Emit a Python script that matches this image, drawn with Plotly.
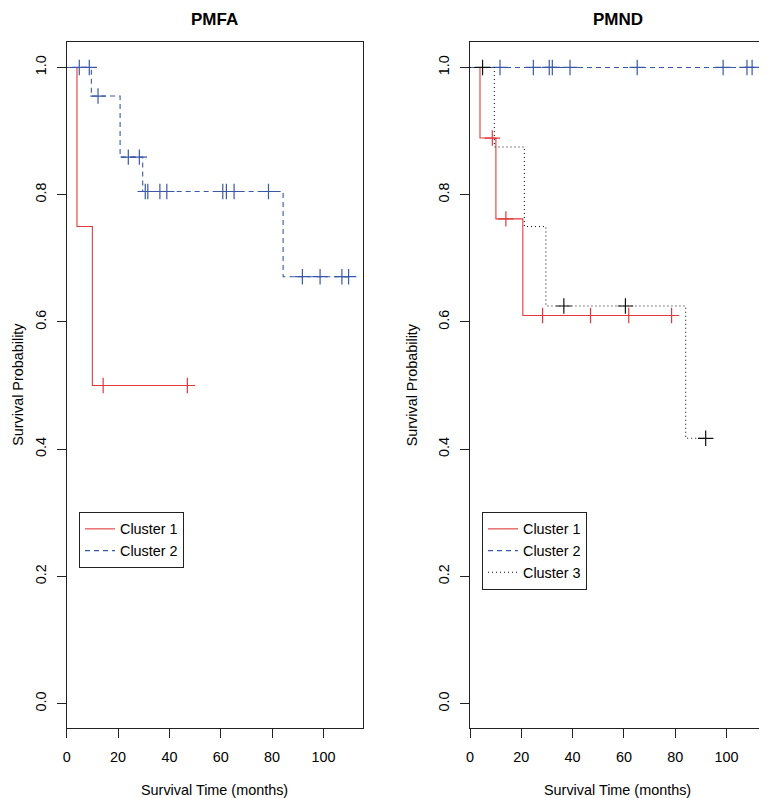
import plotly.graph_objects as go

# ---------------------------------------------------------------- data
# Kaplan-Meier steps: event times (months) and survival
# after each event; curves start at (0, 1).  Censored times are the "+" marks.

# PMFA
pmfa_c1_times = [0, 4.0, 10.0]
pmfa_c1_surv = [1.0, 0.75, 0.5]
pmfa_c1_end = 47.0
pmfa_c1_censor = [14.2, 47.0]

pmfa_c2_times = [0, 9.6, 20.8, 29.6, 84.3]
pmfa_c2_surv = [1.0, 0.955, 0.859, 0.805, 0.671]
pmfa_c2_end = 109.8
pmfa_c2_censor = [4.9, 8.8, 12.2, 24.0, 28.3, 30.6, 31.6, 36.3, 39.0,
                  60.8, 62.2, 65.2, 78.6, 91.8, 98.7, 107.2, 109.8]

# PMND
pmnd_c1_times = [0, 3.9, 10.1, 20.6]
pmnd_c1_surv = [1.0, 0.889, 0.762, 0.610]
pmnd_c1_end = 78.6
pmnd_c1_censor = [8.7, 14.0, 28.3, 47.0, 61.9, 78.6]

pmnd_c2_times = [0]
pmnd_c2_surv = [1.0]
pmnd_c2_end = 110.0
pmnd_c2_censor = [11.7, 24.7, 30.9, 32.1, 39.0, 65.2, 98.7, 108.0, 110.0]

pmnd_c3_times = [0, 9.5, 21.2, 29.6, 84.1]
pmnd_c3_surv = [1.0, 0.875, 0.75, 0.625, 0.417]
pmnd_c3_end = 91.9
pmnd_c3_censor = [4.9, 36.6, 60.6, 91.9]

x_ticks = [0, 20, 40, 60, 80, 100]
y_ticks = [0.0, 0.2, 0.4, 0.6, 0.8, 1.0]

# ---------------------------------------------------------------- style
FONT = "Liberation Sans, Arial, Helvetica, sans-serif"
RED = "#E2393B"
BLUE = "#3A58A8"
BLACK = "#111111"
STYLES = {
    "Cluster 1": dict(color=RED, dash="solid"),
    "Cluster 2": dict(color=BLUE, dash="5px,4px"),
    "Cluster 3": dict(color=BLACK, dash="1px,3px"),
}

# the page body has an 8px margin, so the figure is a bit smaller than the
# window and all window positions below are shifted by OFF
OFF = 8
W, H = 767 - OFF, 798 - OFF


def fx(p):
    return (p - OFF) / W


def fy(p):
    return (H - (p - OFF)) / H


def surv_at(t, times, surv):
    """Survival value of the step curve at time t."""
    val = surv[0]
    for ti, si in zip(times, surv):
        if ti <= t:
            val = si
    return val


fig = go.Figure()


def add_curve(name, times, surv, end, censor, xa, ya, legend):
    st = STYLES[name]
    fig.add_trace(go.Scatter(
        x=times + [end], y=surv + [surv[-1]],
        mode="lines", line_shape="hv", name=name,
        line=dict(color=st["color"], dash=st["dash"], width=1.1),
        xaxis=xa, yaxis=ya, legend=legend,
    ))
    fig.add_trace(go.Scatter(
        x=censor, y=[surv_at(t, times, surv) for t in censor],
        mode="markers", showlegend=False, hoverinfo="skip",
        marker=dict(symbol="cross-thin", size=11,
                    line=dict(width=1.2, color=st["color"])),
        xaxis=xa, yaxis=ya,
    ))


############################ PMFA ######################################
add_curve("Cluster 1", pmfa_c1_times, pmfa_c1_surv, pmfa_c1_end,
          pmfa_c1_censor, "x", "y", "legend")
add_curve("Cluster 2", pmfa_c2_times, pmfa_c2_surv, pmfa_c2_end,
          pmfa_c2_censor, "x", "y", "legend")

############################ PMND ######################################
add_curve("Cluster 1", pmnd_c1_times, pmnd_c1_surv, pmnd_c1_end,
          pmnd_c1_censor, "x2", "y2", "legend2")
add_curve("Cluster 2", pmnd_c2_times, pmnd_c2_surv, pmnd_c2_end,
          pmnd_c2_censor, "x2", "y2", "legend2")
add_curve("Cluster 3", pmnd_c3_times, pmnd_c3_surv, pmnd_c3_end,
          pmnd_c3_censor, "x2", "y2", "legend2")

############################ LAYOUT ####################################
left_dom = [fx(66.7), fx(362.7)]
right_dom = [fx(470.0), fx(765.7)]
y_dom = [fy(727.7), fy(42.0)]

xaxis_common = dict(
    range=[0, 115.3], tickvals=x_ticks, ticks="outside", ticklen=9,
    tickcolor="#222", showline=True, mirror=True, linecolor="#222",
    linewidth=1.2, showgrid=False, zeroline=False, automargin=False,
    tickfont=dict(size=14.4, color="black"), ticklabelstandoff=7,
)
yaxis_common = dict(
    range=[-0.038, 1.04], tickvals=y_ticks, tickformat=".1f",
    ticks="outside", ticklen=9, tickcolor="#222", tickangle=-90,
    showline=True, mirror=True, linecolor="#222", linewidth=1.2,
    showgrid=False, zeroline=False, automargin=False,
    tickfont=dict(size=14.4, color="black"), ticklabelstandoff=5,
)

legend_common = dict(
    bgcolor="white", bordercolor="#222", borderwidth=1,
    font=dict(size=14.4, color="black", family=FONT),
    xanchor="left", yanchor="top", itemwidth=30, tracegroupgap=0,
)

fig.update_layout(
    width=W, height=H,
    margin=dict(l=0, r=0, t=0, b=0),
    paper_bgcolor="white", plot_bgcolor="white",
    font=dict(family=FONT, color="black"),
    xaxis=dict(domain=left_dom, anchor="y", **xaxis_common),
    yaxis=dict(domain=y_dom, anchor="x", **yaxis_common),
    xaxis2=dict(domain=right_dom, anchor="y2", **xaxis_common),
    yaxis2=dict(domain=y_dom, anchor="x2", **yaxis_common),
    legend=dict(x=fx(79), y=fy(512), **legend_common),
    legend2=dict(x=fx(482), y=fy(512), **legend_common),
    showlegend=True,
)

# titles and axis labels
for dom, title in [(left_dom, "PMFA"), (right_dom, "PMND")]:
    cx = (dom[0] + dom[1]) / 2
    fig.add_annotation(text="<b>" + title + "</b>", x=cx, y=1.0,
                       xanchor="center", yanchor="top",
                       xref="paper", yref="paper", showarrow=False,
                       font=dict(size=17, family=FONT, color="black"))
    fig.add_annotation(text="Survival Time (months)", x=cx, y=fy(790),
                       xanchor="center", yanchor="middle",
                       xref="paper", yref="paper", showarrow=False,
                       font=dict(size=14.4, family=FONT, color="black"))
fig.add_annotation(text="Survival Probability", x=0.0,
                   y=(y_dom[0] + y_dom[1]) / 2, textangle=-90,
                   xanchor="left", yanchor="middle",
                   xref="paper", yref="paper", showarrow=False,
                   font=dict(size=14.4, family=FONT, color="black"))
fig.add_annotation(text="Survival Probability", x=fx(411.5),
                   y=(y_dom[0] + y_dom[1]) / 2, textangle=-90,
                   xanchor="center", yanchor="middle",
                   xref="paper", yref="paper", showarrow=False,
                   font=dict(size=14.4, family=FONT, color="black"))

fig.write_html("out.html")
